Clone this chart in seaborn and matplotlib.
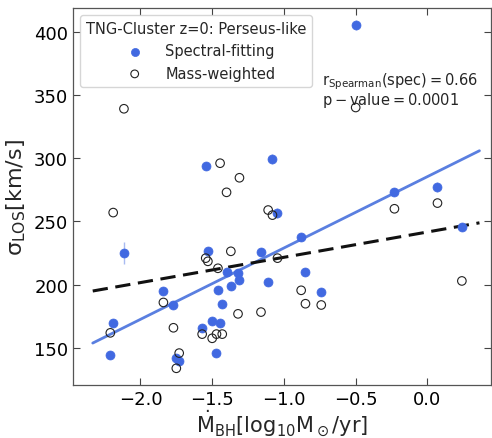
import numpy as np
import pandas as pd
import matplotlib
matplotlib.use("Agg")
import matplotlib.pyplot as plt
import seaborn as sns

# ---- data ----
mdot_bh = [-2.21, -2.19, -2.115, -1.84, -1.77, -1.75, -1.73, -1.57, -1.545, -1.53,
           -1.50, -1.47, -1.46, -1.445, -1.43, -1.40, -1.37, -1.32, -1.31, -1.16,
           -1.11, -1.08, -1.045, -0.88, -0.85, -0.74, -0.50, -0.23, 0.07, 0.24]
sigma_spec = [144.5, 170, 225, 195, 184, 142, 140, 166, 294, 227,
              171.5, 146, 196, 170, 185, 210, 199, 209.5, 204, 226,
              202, 299, 257, 238, 210, 194.5, 405, 273.5, 277, 246]
sigma_spec_err = [3, 2, 9, 2, 2, 2, 2, 2, 3, 3,
                  2, 2, 2, 2, 2, 2, 2, 2, 2, 3,
                  2, 4, 4, 3, 3, 2, 4, 3, 4, 3]
sigma_mw = [162, 257, 339, 186, 166, 134, 146, 161, 221, 218.5,
            157.7, 161, 213, 296, 161, 273, 226.4, 177, 284.5, 178.4,
            259, 255, 221, 195.6, 185, 184, 340, 260, 264.5, 203]

legend_title = "TNG-Cluster z=0: Perseus-like"
label_spec = "Spectral-fitting"
label_mw = "Mass-weighted"
stat_text = ["$r_{Spearman}(spec) = 0.66$", "$p-value = 0.0001$"]
x_ticks = [-2.0, -1.5, -1.0, -0.5, 0.0]
y_ticks = [150, 200, 250, 300, 350, 400]

df = pd.DataFrame({"mdot": mdot_bh, "spec": sigma_spec, "err": sigma_spec_err, "mw": sigma_mw})

sns.set_theme(style="ticks")
plt.rcParams["font.family"] = ["DejaVu Sans"]
plt.rcParams["mathtext.default"] = "regular"

blue = "#4169E1"
fig = plt.figure(figsize=(4.92, 4.39), dpi=100)
ax = fig.add_axes([73/492, 1 - 386/439, (491-73)/492, (386-9)/439])

ax.errorbar(df["mdot"], df["spec"], yerr=df["err"], fmt="none",
            ecolor=blue, alpha=0.45, elinewidth=1.0, zorder=2)
sns.scatterplot(data=df, x="mdot", y="spec", ax=ax, color=blue, s=42,
                edgecolor=blue, linewidth=0.5, label=label_spec, zorder=3)
sns.scatterplot(data=df, x="mdot", y="mw", ax=ax, facecolor="none", s=38,
                edgecolor="#222222", linewidth=0.8, label=label_mw, zorder=3)

sns.regplot(data=df, x="mdot", y="spec", ax=ax, scatter=False, ci=None,
            truncate=False, color="#5a7fe0", line_kws={"lw": 2.0, "zorder": 2})
sns.regplot(data=df, x="mdot", y="mw", ax=ax, scatter=False, ci=None,
            truncate=False, color="#111111", line_kws={"lw": 2.2, "ls": (0, (5, 2.5)), "zorder": 2})

ax.set_xlim(-2.47, 0.443)
ax.set_ylim(120.8, 418.6)
ax.set_xticks(x_ticks)
ax.set_yticks(y_ticks)
ax.tick_params(direction="in", top=True, right=True, labelsize=13, length=5, width=0.8, colors="#444444", labelcolor="black")
for s in ax.spines.values():
    s.set_color("#555555")
    s.set_linewidth(0.9)

ax.set_xlabel(r"$\dot{M}_{BH}[log_{10}M_\odot/yr]$", fontsize=15, labelpad=0)
ax.set_ylabel(r"$\sigma_{LOS}[km/s]$", fontsize=16, labelpad=4)

leg = ax.legend(title=legend_title, loc="upper left", fontsize=10.5, title_fontsize=10.5,
                frameon=True, borderaxespad=0.5, handletextpad=0.9, handlelength=2.4,
                markerscale=0.9)
leg.get_frame().set_edgecolor("#cccccc")

ax.text(0.596, 0.808, stat_text[0], transform=ax.transAxes, fontsize=10.5, va="center")
ax.text(0.596, 0.757, stat_text[1], transform=ax.transAxes, fontsize=10.5, va="center")

fig.savefig("out.png", dpi=100)
